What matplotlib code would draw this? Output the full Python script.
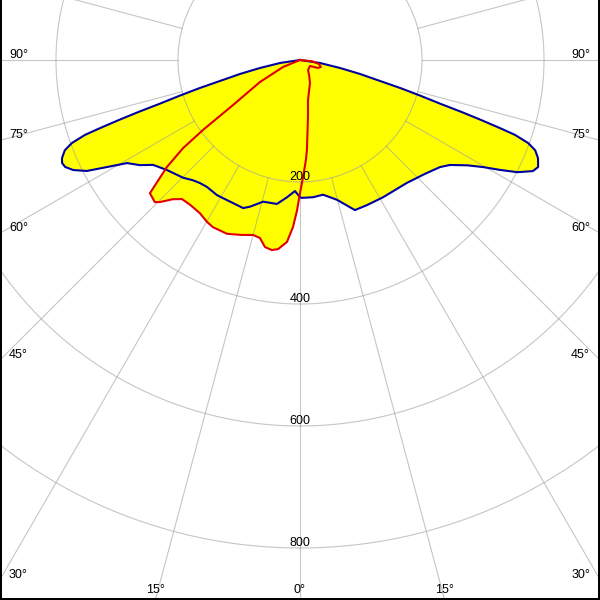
import numpy as np
import matplotlib.pyplot as plt
from matplotlib.lines import Line2D

plt.rcParams['font.family'] = ['Liberation Sans', 'DejaVu Sans']

# Luminous intensity (cd) against gamma (deg, 0 = straight down)
# C0-C180 plane, blue
blue_left_gamma = [0, 2.2, 5.4, 9.1, 14.6, 18.8, 21, 27.5, 31.6, 36.2, 39.1, 41.7, 44.8, 50.4, 54.5,
                   56.7, 59.2, 61, 62.5, 64.1, 65.5, 66.6, 67.6, 69.0, 70.0, 70.8, 71.2, 71.7, 72.2,
                   72.7, 73.5, 74.4, 75.3, 76.9, 78.7, 81.5, 90]
blue_left_cd = [225, 215, 226, 239, 240, 254, 260, 259, 260, 258, 260, 264, 272, 283, 296,
                314, 330, 362, 394, 413, 423, 425, 422, 413, 398, 373, 346, 311, 276,
                240, 205, 170, 136, 101, 67, 33, 0]
blue_right_gamma = [0, 0.8, 5.4, 9.7, 14.8, 20.1, 24.8, 31.2, 41, 47.6, 52.6, 55, 57.8, 59.7, 61.2,
                    62.7, 64.5, 65.8, 67.6, 69.0, 70.0, 70.8, 71.2, 71.7, 72.2, 72.7, 73.5, 74.4,
                    75.3, 76.9, 78.7, 81.5, 90]
blue_right_cd = [225, 226, 226, 224, 237, 262, 262, 263, 267, 277, 289, 300, 324, 348, 374,
                 401, 423, 428, 422, 413, 398, 373, 346, 311, 276, 240, 205, 170,
                 136, 101, 67, 33, 0]

# C90-C270 plane, red
red_left_gamma = [0, 1.1, 2.4, 4.1, 6.6, 8.4, 10.6, 12.7, 15, 18.9, 22.8, 27.5, 29.9, 33.2,
                  37.2, 40.3, 42.4, 44.6, 45.6, 48.4, 49.5, 51.2, 53, 54.2, 56.1, 61.2, 67.6, 90]
red_left_cd = [218, 246, 274, 299, 312, 315, 312, 299, 297, 303, 309, 309, 306, 300,
               298, 299, 309, 327, 333, 329, 308, 280, 240, 196, 132, 75, 30, 0]
red_right_gamma = [0, 1.5, 3.4, 4.4, 8, 11.3, 23.5, 31, 38.7, 59, 66, 71.6, 78, 84, 90]
red_right_cd = [218, 192, 164, 148, 94, 67, 41, 29, 21, 19, 32, 36, 32, 20, 0]

ring_values = [200, 400, 600, 800]
angle_labels = [0, 15, 30, 45, 60, 75, 90]

colors = {
    "blue": "#0000a0",
    "red": "#e00000",
    "fill": "#ffff00",
    "grid": "#a0a0a0",
}

r_max = 1000
px_per_cd = 0.61
center_px = (300, 60)  # x from left, y from top
size_px = 600


# Joins the left and right halves of a plane into one polar curve
def full_curve(left_gamma, left_cd, right_gamma, right_cd):
    theta = np.concatenate([-np.array(left_gamma[::-1]), np.array(right_gamma[1:])])
    r = np.concatenate([np.array(left_cd[::-1]), np.array(right_cd[1:])])
    return np.radians(theta), r


# Point where a ray from p0 through p1 leaves the picture (display coords)
def exit_point(p0, p1):
    d = p1 - p0
    ts = []
    for k, lim in ((0, 0), (0, size_px), (1, 0), (1, size_px)):
        if abs(d[k]) > 1e-9:
            t = (lim - p0[k]) / d[k]
            if t > 0:
                q = p0 + t * d
                if -0.5 <= q[1 - k] <= size_px + 0.5:
                    ts.append((t, k, lim))
    t, k, lim = min(ts)
    return p0 + t * d, k, lim


fig = plt.figure(figsize=(6, 6), dpi=100)
R = r_max * px_per_cd
cx, cy = center_px
ax = fig.add_axes([(cx - R) / size_px, (size_px - cy - R) / size_px, 2 * R / size_px, 2 * R / size_px],
                  projection='polar')
ax.set_theta_zero_location('S')
ax.set_theta_direction(1)
ax.set_rlim(0, r_max)
ax.set_axis_off()

blue_theta, blue_r = full_curve(blue_left_gamma, blue_left_cd, blue_right_gamma, blue_right_cd)
red_theta, red_r = full_curve(red_left_gamma, red_left_cd, red_right_gamma, red_right_cd)

# Filled area
ax.fill(blue_theta, blue_r, color=colors["fill"], lw=0, zorder=1)
ax.fill(red_theta, red_r, color=colors["fill"], lw=0, zorder=1)

# Grid
ring_theta = np.linspace(0, 2 * np.pi, 721)
for v in ring_values:
    ax.plot(ring_theta, np.full_like(ring_theta, v), color=colors["grid"], lw=0.8, alpha=0.6, zorder=2)
for a in range(0, 360, 15):
    ax.plot([np.radians(a)] * 2, [ring_values[0], r_max * 1.2], color=colors["grid"], lw=0.8,
            alpha=0.6, zorder=2, clip_on=False)

# Curves
ax.plot(blue_theta, blue_r, color=colors["blue"], lw=1.5, zorder=3)
ax.plot(red_theta, red_r, color=colors["red"], lw=1.5, zorder=4)

# Ring labels
for v in ring_values:
    ax.annotate(str(v), xy=(0, v), xytext=(0, 1.8), textcoords='offset points',
                ha='center', va='baseline', fontsize=9, zorder=5)

# Angle labels at the picture edge
p0 = ax.transData.transform((0, 0))
for g in angle_labels:
    for side in ([1] if g == 0 else [-1, 1]):
        p1 = ax.transData.transform((np.radians(side * g), r_max))
        q, k, lim = exit_point(p0, p1)
        if k == 0:
            x = 9 if lim == 0 else size_px - 10
            ha = 'left' if lim == 0 else 'right'
            fig.text(x / size_px, (q[1] + 2) / size_px, f"{g}°", ha=ha, va='baseline', fontsize=9)
        else:
            fig.text(q[0] / size_px, 7 / size_px, f"{g}°", ha='center', va='baseline', fontsize=9)

# Frame on left, right and bottom
for xs, ys in (([1, 1], [0, size_px]), ([size_px - 1, size_px - 1], [0, size_px]), ([0, size_px], [1, 1])):
    fig.add_artist(Line2D(np.array(xs) / size_px, np.array(ys) / size_px, color='black', lw=1.44,
                          transform=fig.transFigure))

fig.savefig('out.png', dpi=100)
